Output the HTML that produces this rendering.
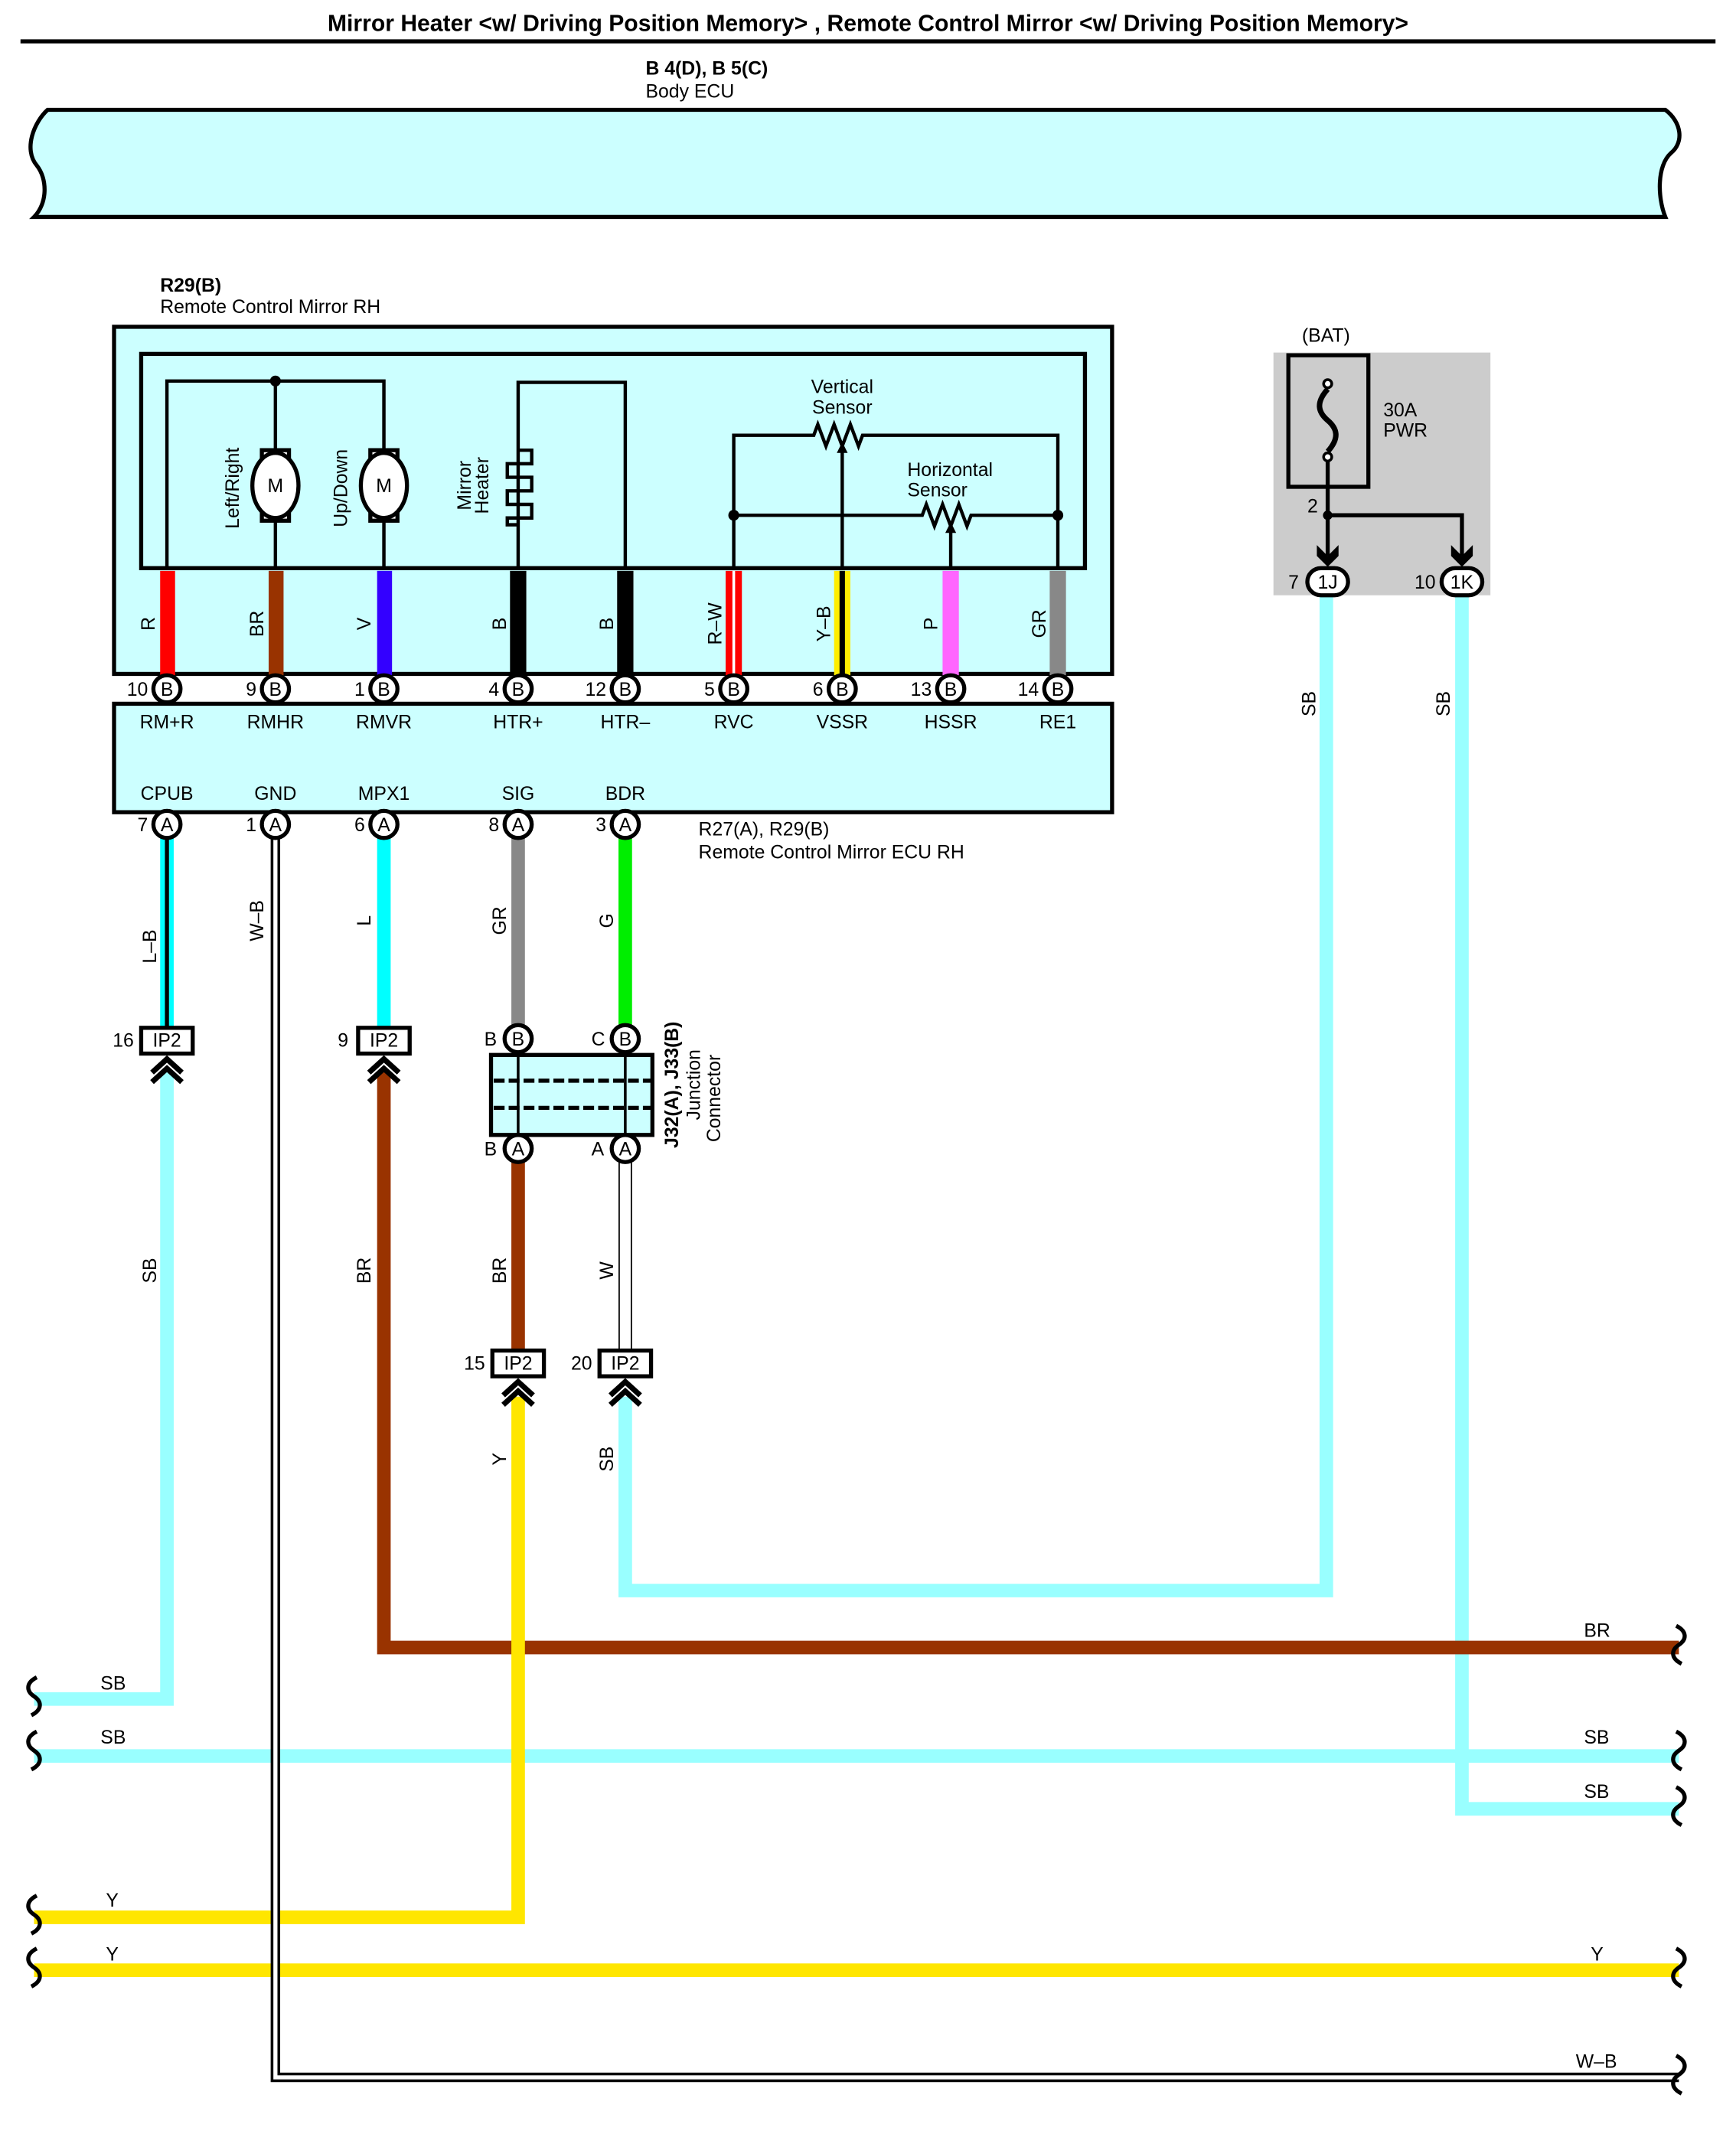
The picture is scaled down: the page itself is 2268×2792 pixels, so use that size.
<!DOCTYPE html>
<html><head><meta charset="utf-8"><style>
html,body{margin:0;padding:0;background:#fff}
svg{display:block}
text{font-family:"Liberation Sans",sans-serif;font-size:14px;fill:#000}
</style></head><body>
<svg width="2268" height="2792" viewBox="0 0 1280 1576" xmlns="http://www.w3.org/2000/svg">
<defs>
<g id="pinB"><circle r="10" fill="#fff" stroke="#000" stroke-width="3"/><text y="5" text-anchor="middle" style="font-size:14px">B</text></g>
<g id="pinA"><circle r="10" fill="#fff" stroke="#000" stroke-width="3"/><text y="5" text-anchor="middle" style="font-size:14px">A</text></g>
<g id="ip2"><rect x="-19" y="-9" width="38" height="19" fill="#fff" stroke="#000" stroke-width="3"/><text y="5" text-anchor="middle">IP2</text></g>
<path id="chev" d="M-11,24 L0,14 L11,24 M-11,31 L0,21 L11,31" fill="none" stroke="#000" stroke-width="4"/>
<path id="wl" d="M0,0 c-8,4 -8,10 -2,14 c6,4 6,10 -2,14" fill="none" stroke="#000" stroke-width="3"/>
<path id="wr" d="M0,0 c8,4 8,10 2,14 c-6,4 -6,10 2,14" fill="none" stroke="#000" stroke-width="3"/>
</defs>
<text x="640" y="23" text-anchor="middle" style="font-size:17px;font-weight:bold">Mirror Heater &lt;w/ Driving Position Memory&gt; , Remote Control Mirror &lt;w/ Driving Position Memory&gt;</text>
<rect x="15" y="29" width="1250" height="3" fill="#000"/>
<text x="476" y="55" style="font-weight:bold">B 4(D), B 5(C)</text>
<text x="476" y="72">Body ECU</text>
<path d="M35,81 H1228 C1240,90 1242,105 1232,113 C1222,122 1222,145 1228,160 H25 C35,150 35,132 27,122 C17,110 25,90 35,81 Z" fill="#ccffff" stroke="#000" stroke-width="3"/>

<text x="118" y="215" style="font-weight:bold">R29(B)</text>
<text x="118" y="231">Remote Control Mirror RH</text>
<rect x="84" y="241" width="736" height="256" fill="#ccffff" stroke="#000" stroke-width="3"/>
<rect x="104" y="261" width="696" height="158" fill="none" stroke="#000" stroke-width="3"/>
<g fill="none" stroke="#000" stroke-width="2.5">
<path d="M123,420 V281 H283 V420 M203,281 V420 M382,420 V282 H461 V420"/>
<path d="M382,332 H392 V342 H374 V352 H392 V362 H374 V372 H392 V382 H374 V387 H382"/>
<path d="M541,420 V321 H600 l3,-8 l6,16 l6,-16 l6,16 l6,-16 l6,16 l3,-8 H780 V420"/>
<path d="M541,380 H680 l3,-8 l6,16 l6,-16 l6,16 l6,-16 l6,16 l3,-8 H780"/>
<path d="M621,420 V332 M701,420 V392"/>
</g>
<path d="M621,326 l-4,8 h8 z M701,385 l-4,8 h8 z" fill="#000"/>
<circle cx="203" cy="281" r="4"/><circle cx="541" cy="380" r="4"/><circle cx="780" cy="380" r="4"/>
<g fill="#fff" stroke="#000" stroke-width="3">
<rect x="193" y="332" width="20" height="52"/><ellipse cx="203" cy="358" rx="17" ry="24"/>
<rect x="273" y="332" width="20" height="52"/><ellipse cx="283" cy="358" rx="17" ry="24"/>
</g>
<text x="203" y="363" text-anchor="middle">M</text><text x="283" y="363" text-anchor="middle">M</text>
<text transform="translate(176,360) rotate(-90)" text-anchor="middle">Left/Right</text>
<text transform="translate(256,360) rotate(-90)" text-anchor="middle">Up/Down</text>
<text transform="translate(347,358) rotate(-90)" text-anchor="middle">Mirror</text>
<text transform="translate(360,358) rotate(-90)" text-anchor="middle">Heater</text>
<text x="621" y="290" text-anchor="middle">Vertical</text><text x="621" y="305" text-anchor="middle">Sensor</text>
<text x="669" y="351">Horizontal</text><text x="669" y="366">Sensor</text>
<rect x="118" y="421" width="11" height="77" fill="#ff0000"/>
<rect x="198" y="421" width="11" height="77" fill="#993300"/>
<rect x="278" y="421" width="11" height="77" fill="#3300ff"/>
<rect x="376" y="421" width="12" height="77" fill="#000"/>
<rect x="455" y="421" width="12" height="77" fill="#000"/>
<rect x="535" y="421" width="12" height="77" fill="#ff0000"/><rect x="540" y="421" width="2" height="77" fill="#fff"/>
<rect x="615" y="421" width="12" height="77" fill="#ffee00"/><rect x="619" y="421" width="4" height="77" fill="#000"/>
<rect x="695" y="421" width="12" height="77" fill="#ff66ff"/>
<rect x="774" y="421" width="12" height="77" fill="#888"/>
<g text-anchor="middle">
<text transform="translate(114,460) rotate(-90)">R</text>
<text transform="translate(194,460) rotate(-90)">BR</text>
<text transform="translate(273,460) rotate(-90)">V</text>
<text transform="translate(373,460) rotate(-90)">B</text>
<text transform="translate(452,460) rotate(-90)">B</text>
<text transform="translate(532,460) rotate(-90)">R–W</text>
<text transform="translate(612,460) rotate(-90)">Y–B</text>
<text transform="translate(691,460) rotate(-90)">P</text>
<text transform="translate(771,460) rotate(-90)">GR</text>
</g>
<rect x="84" y="519" width="736" height="80" fill="#ccffff" stroke="#000" stroke-width="3"/>
<g text-anchor="middle">
<text x="123" y="537">RM+R</text><text x="203" y="537">RMHR</text><text x="283" y="537">RMVR</text><text x="382" y="537">HTR+</text><text x="461" y="537">HTR–</text><text x="541" y="537">RVC</text><text x="621" y="537">VSSR</text><text x="701" y="537">HSSR</text><text x="780" y="537">RE1</text>
<text x="123" y="590">CPUB</text><text x="203" y="590">GND</text><text x="283" y="590">MPX1</text><text x="382" y="590">SIG</text><text x="461" y="590">BDR</text>
</g>
<g text-anchor="end">
<text x="109" y="513">10</text><text x="189" y="513">9</text><text x="269" y="513">1</text><text x="368" y="513">4</text><text x="447" y="513">12</text><text x="527" y="513">5</text><text x="607" y="513">6</text><text x="687" y="513">13</text><text x="766" y="513">14</text>
<text x="109" y="613">7</text><text x="189" y="613">1</text><text x="269" y="613">6</text><text x="368" y="613">8</text><text x="447" y="613">3</text>
</g>
<text x="515" y="616">R27(A), R29(B)</text><text x="515" y="633">Remote Control Mirror ECU RH</text>

<rect x="939" y="260" width="160" height="179" fill="#cccccc"/>
<text x="960" y="252">(BAT)</text>
<rect x="950" y="262" width="59" height="97" fill="none" stroke="#000" stroke-width="3"/>
<circle cx="979" cy="283" r="3" fill="#fff" stroke="#000" stroke-width="2"/><circle cx="979" cy="337" r="3" fill="#fff" stroke="#000" stroke-width="2"/>
<path d="M979,287 C970,297 972,304 979,310 C986,316 988,323 979,333" fill="none" stroke="#000" stroke-width="4"/>
<text x="1020" y="307">30A</text><text x="1020" y="322">PWR</text>
<path d="M979,340 V410 M979,380 H1078 V410" fill="none" stroke="#000" stroke-width="3"/>
<circle cx="979" cy="380" r="3.5"/>
<text x="964" y="378">2</text>
<path d="M971,402 l8,8 l8,-8 v8 l-8,8 l-8,-8 z M1070,402 l8,8 l8,-8 v8 l-8,8 l-8,-8 z" fill="#000"/>

<g fill="none" stroke-linejoin="miter">
<path d="M978,438 V1173 H461 V1030" stroke="#99ffff" stroke-width="10"/>
<path d="M1078,438 V1334 H1238" stroke="#99ffff" stroke-width="10"/>
<path d="M25,1295 H1238" stroke="#99ffff" stroke-width="10"/>
<path d="M123,790 V1253 H25" stroke="#99ffff" stroke-width="10"/>
<path d="M283,790 V1215 H1238" stroke="#993300" stroke-width="10"/>
<path d="M382,1030 V1414 H25" stroke="#ffe600" stroke-width="10"/>
<path d="M25,1453 H1238" stroke="#ffe600" stroke-width="10"/>
<path d="M203,618 V1532 H1238" stroke="#000" stroke-width="7"/>
<path d="M203,618 V1532 H1238" stroke="#fff" stroke-width="3"/>
<path d="M123,618 V757" stroke="#00ffff" stroke-width="10"/>
<path d="M123,618 V757" stroke="#000" stroke-width="3"/>
<path d="M283,618 V757" stroke="#00ffff" stroke-width="10"/>
<path d="M382,618 V757" stroke="#888" stroke-width="10"/>
<path d="M461,618 V757" stroke="#00ee00" stroke-width="10"/>
<path d="M382,857 V996" stroke="#993300" stroke-width="10"/>
<path d="M461,857 V996" stroke="#000" stroke-width="10"/>
<path d="M461,857 V996" stroke="#fff" stroke-width="8"/>
</g>
<rect x="362" y="778" width="119" height="59" fill="#ccffff" stroke="#000" stroke-width="3"/>
<path d="M382,778 V837 M461,778 V837" stroke="#000" stroke-width="2"/>
<path d="M364,797 H480 M364,817 H480" stroke="#000" stroke-width="3" stroke-dasharray="8,3"/>
<text transform="translate(500,800) rotate(-90)" text-anchor="middle" style="font-weight:bold">J32(A), J33(B)</text>
<text transform="translate(516,800) rotate(-90)" text-anchor="middle">Junction</text>
<text transform="translate(531,810) rotate(-90)" text-anchor="middle">Connector</text>

<use href="#pinB" x="123" y="508"/><use href="#pinB" x="203" y="508"/><use href="#pinB" x="283" y="508"/><use href="#pinB" x="382" y="508"/><use href="#pinB" x="461" y="508"/><use href="#pinB" x="541" y="508"/><use href="#pinB" x="621" y="508"/><use href="#pinB" x="701" y="508"/><use href="#pinB" x="780" y="508"/>
<use href="#pinA" x="123" y="608"/><use href="#pinA" x="203" y="608"/><use href="#pinA" x="283" y="608"/><use href="#pinA" x="382" y="608"/><use href="#pinA" x="461" y="608"/>
<use href="#pinB" x="382" y="766"/><use href="#pinB" x="461" y="766"/><use href="#pinA" x="382" y="847"/><use href="#pinA" x="461" y="847"/>
<text x="357" y="771">B</text><text x="436" y="771">C</text><text x="357" y="852">B</text><text x="436" y="852">A</text>

<g fill="#fff" stroke="#000" stroke-width="3"><rect x="964" y="419" width="30" height="20" rx="10"/><rect x="1063" y="419" width="30" height="20" rx="10"/></g>
<text x="979" y="434" text-anchor="middle">1J</text><text x="1078" y="434" text-anchor="middle">1K</text>
<text x="950" y="434">7</text><text x="1043" y="434">10</text>

<use href="#ip2" x="123" y="767"/><use href="#ip2" x="283" y="767"/><use href="#ip2" x="382" y="1005"/><use href="#ip2" x="461" y="1005"/>
<use href="#chev" x="123" y="767"/><use href="#chev" x="283" y="767"/><use href="#chev" x="382" y="1005"/><use href="#chev" x="461" y="1005"/>
<text x="83" y="772">16</text><text x="249" y="772">9</text><text x="342" y="1010">15</text><text x="421" y="1010">20</text>

<g text-anchor="middle">
<text transform="translate(115,698) rotate(-90)">L–B</text>
<text transform="translate(194,679) rotate(-90)">W–B</text>
<text transform="translate(273,679) rotate(-90)">L</text>
<text transform="translate(373,679) rotate(-90)">GR</text>
<text transform="translate(452,679) rotate(-90)">G</text>
<text transform="translate(115,937) rotate(-90)">SB</text>
<text transform="translate(273,937) rotate(-90)">BR</text>
<text transform="translate(373,937) rotate(-90)">BR</text>
<text transform="translate(452,937) rotate(-90)">W</text>
<text transform="translate(373,1076) rotate(-90)">Y</text>
<text transform="translate(452,1076) rotate(-90)">SB</text>
<text transform="translate(970,519) rotate(-90)">SB</text>
<text transform="translate(1069,519) rotate(-90)">SB</text>
</g>
<text x="74" y="1246">SB</text><text x="74" y="1286">SB</text><text x="78" y="1406">Y</text><text x="78" y="1446">Y</text>
<text x="1168" y="1207">BR</text><text x="1168" y="1286">SB</text><text x="1168" y="1326">SB</text><text x="1173" y="1446">Y</text><text x="1162" y="1525">W–B</text>
<use href="#wl" x="27" y="1237"/><use href="#wl" x="27" y="1277"/><use href="#wl" x="27" y="1398"/><use href="#wl" x="27" y="1437"/>
<use href="#wr" x="1236" y="1199"/><use href="#wr" x="1236" y="1277"/><use href="#wr" x="1236" y="1318"/><use href="#wr" x="1236" y="1437"/><use href="#wr" x="1236" y="1516"/>
</svg>
</body></html>
